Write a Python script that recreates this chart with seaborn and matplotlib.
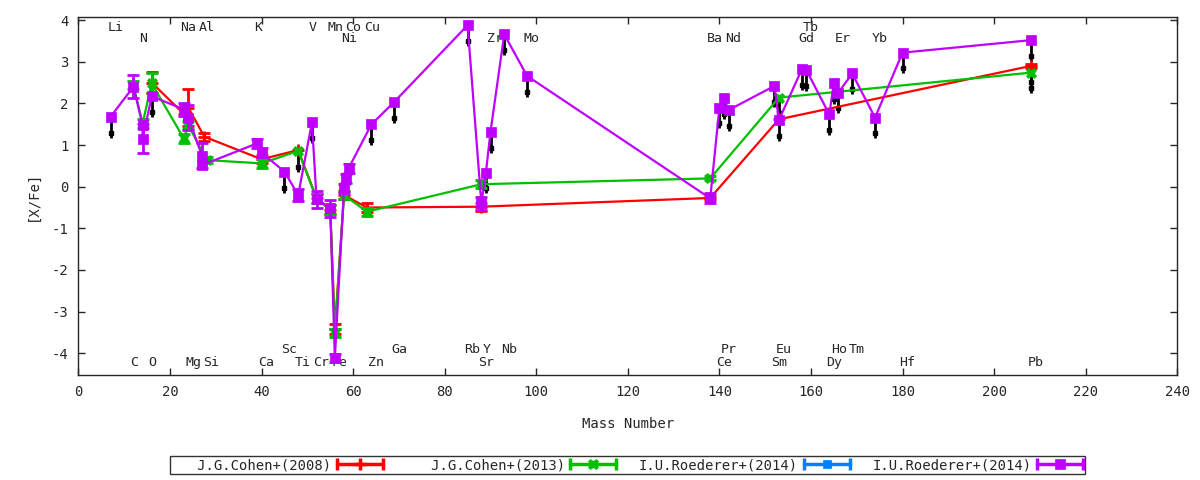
import numpy as np
import pandas as pd
import seaborn as sns
import matplotlib.pyplot as plt
from matplotlib.lines import Line2D
from matplotlib.legend_handler import HandlerLine2D, HandlerTuple

# element labels: mass number, row (0/1 top, 2/3 bottom)
elem_names = ["Li", "N", "Na", "Al", "K", "V", "Mn", "Co", "Cu", "Ni", "Zr", "Mo",
              "Ba", "Nd", "Gd", "Tb", "Er", "Yb",
              "C", "O", "Mg", "Si", "Ca", "Sc", "Ti", "Cr", "Fe", "Zn", "Ga",
              "Rb", "Sr", "Y", "Nb", "Ce", "Pr", "Sm", "Eu", "Dy", "Ho", "Tm", "Hf", "Pb"]
elem_mass = [7, 14, 23, 27, 39, 51, 55, 59, 63, 58, 90, 98,
             138, 142, 158, 159, 166, 174,
             12, 16, 24, 28, 40, 45, 48, 52, 56, 64, 69,
             85, 88, 89, 93, 140, 141, 152, 153, 164, 165, 169, 180, 208]
elem_row = [0, 1, 0, 0, 0, 0, 0, 0, 0, 1, 1, 1,
            1, 1, 1, 0, 1, 1,
            3, 3, 3, 3, 3, 2, 3, 3, 3, 3, 2,
            2, 3, 2, 2, 3, 2, 3, 2, 3, 2, 2, 3, 3]
row_y = [3.83, 3.57, -3.90, -4.23]

# J.G.Cohen+(2008)
c08_mass = [16, 23, 24, 27.5, 40, 48, 52, 55, 56, 58, 63, 88, 138, 153, 208]
c08_val = [2.50, 1.75, 1.90, 1.20, 0.66, 0.88, -0.28, -0.55, -3.42, -0.20, -0.50, -0.48, -0.27, 1.62, 2.90]
c08_err = [0.25, 0, 0.44, 0.10, 0.10, 0, 0.10, 0.10, 0.12, 0.10, 0.10, 0.10, 0.05, 0, 0.05]
c08_ul = [0, 0, 0, 0, 0, 0, 0, 0, 0, 0, 0, 0, 0, 0, 1]

# J.G.Cohen+(2013)
c13_mass = [12, 14, 16, 23, 24, 28, 40, 48, 52, 55, 56, 58, 63, 88, 138, 153, 208]
c13_val = [2.45, 1.52, 2.48, 1.16, 1.48, 0.64, 0.56, 0.86, -0.28, -0.55, -3.52, -0.20, -0.60, 0.06, 0.20, 2.14, 2.74]
c13_err = [0.10, 0.10, 0.24, 0.10, 0.10, 0.08, 0.10, 0, 0.10, 0.10, 0.10, 0.10, 0.10, 0.10, 0.05, 0, 0]
c13_ul = [0, 0, 0, 0, 0, 0, 0, 1, 0, 0, 0, 0, 0, 0, 0, 1, 1]

# I.U.Roederer+(2014), first set (hidden under the second one)
r14a_mass = []
r14a_val = []
r14a_err = []
r14a_ul = []

# I.U.Roederer+(2014)
r14_mass = [7, 12, 14, 14, 16, 23, 24, 27, 27, 39, 40, 45, 48, 51, 52, 55, 56, 58, 58.4, 59,
            64, 69, 85, 88, 89, 90, 93, 98, 138, 140, 141, 142, 152, 153, 158, 159,
            164, 165, 166, 169, 174, 180, 208]
r14_val = [1.68, 2.40, 1.48, 1.15, 2.17, 1.86, 1.66, 0.74, 0.52, 1.04, 0.82, 0.36, -0.20, 1.55,
           -0.30, -0.52, -4.12, -0.04, 0.20, 0.44, 1.50, 2.04, 3.88, -0.40, 0.34, 1.32, 3.66,
           2.66, -0.28, 1.90, 2.12, 1.84, 2.42, 1.60, 2.82, 2.80, 1.74, 2.48, 2.26, 2.72, 1.66,
           3.22, 3.52]
r14_err = [0, 0.28, 0, 0.35, 0, 0.15, 0.30, 0.30, 0, 0.10, 0.10, 0, 0.15, 0, 0.20, 0.20, 0.10,
           0.10, 0.10, 0.10, 0, 0, 0, 0.15, 0, 0, 0, 0, 0.12, 0, 0, 0, 0, 0, 0, 0, 0, 0, 0, 0,
           0, 0, 0]
r14_ul = [1, 0, 0, 0, 1, 0, 0, 0, 0, 0, 0, 1, 0, 1, 0, 0, 0, 0, 0, 0, 1, 1, 1, 0, 1, 1, 1, 1,
          0, 1, 1, 1, 1, 1, 1, 1, 1, 1, 1, 1, 1, 1, 1]

series = [
    ("J.G.Cohen+(2008)", c08_mass, c08_val, c08_err, c08_ul, "#ff0000", "+", 9),
    ("J.G.Cohen+(2013)", c13_mass, c13_val, c13_err, c13_ul, "#00c000", "X", 7.5),
    ("I.U.Roederer+(2014)", r14a_mass, r14a_val, r14a_err, r14a_ul, "#0080ff", "s", 6),
    ("I.U.Roederer+(2014)", r14_mass, r14_val, r14_err, r14_ul, "#c000ff", "s", 7.5),
]

sns.set_style("ticks")
plt.rcParams["font.family"] = ["DejaVu Sans Mono"]
plt.rcParams["font.size"] = 9.5
plt.rcParams["axes.unicode_minus"] = False
plt.rcParams["xtick.direction"] = "in"
plt.rcParams["ytick.direction"] = "in"
plt.rcParams["xtick.top"] = True
plt.rcParams["ytick.right"] = True

fig = plt.figure(figsize=(12, 4.8), dpi=100)
ax = fig.add_axes([0.0654, 0.219, 0.9156, 0.745])

for name, row in zip(elem_names, elem_row):
    m = elem_mass[elem_names.index(name)]
    ax.text(m - 0.7, row_y[row], name, ha="left", va="center", fontsize=9.5, zorder=0)

handles = []
for i, (label, mass, val, err, ul, col, mk, ms) in enumerate(series):
    df = pd.DataFrame({"mass": mass, "val": val, "err": err, "ul": ul})
    z = 3 + i
    # upper limits: black downward arrows
    lim = df[df["ul"] == 1]
    if len(lim):
        ax.vlines(lim["mass"], lim["val"] - 0.5, lim["val"], color="black", lw=2, zorder=1)
        ax.plot(lim["mass"], lim["val"] - 0.38, "s", color="black", ms=3.5, zorder=1)
    if len(df):
        sns.lineplot(data=df, x="mass", y="val", sort=False, estimator=None, ax=ax,
                     color=col, lw=1.6, marker=mk, ms=ms, mec=col, mew=2 if mk == "+" else 0.5,
                     zorder=z)
        eb = df[df["err"] > 0]
        ax.errorbar(eb["mass"], eb["val"], yerr=eb["err"], fmt="none", ecolor=col,
                    elinewidth=2, capsize=4, capthick=2, zorder=z)
    caps = Line2D([], [], color=col, lw=2.5, marker="|", ms=9, mew=2.5)
    dot = Line2D([], [], ls="none", color=col, marker=mk, ms=ms, mec=col,
                 mew=2.5 if mk == "+" else 0.5)
    handles.append(((caps, dot), caps, "   " + label if len(label) < 19 else label))

ax.set_xlim(0, 240)
ax.set_ylim(-4.52, 4.07)
ax.set_xticks(np.arange(0, 241, 20))
ax.set_yticks(np.arange(-4, 5, 1))
ax.tick_params(length=5, width=1, pad=7, labelsize=10)
for s in ax.spines.values():
    s.set_linewidth(1)
ax.set_xlabel("Mass Number", fontsize=10, labelpad=13)
ax.set_ylabel("[X/Fe]", fontsize=10, labelpad=9)

hmap = {tuple: HandlerTuple(ndivide=1)}
for h, caps, _ in handles:
    hmap[caps] = HandlerLine2D(numpoints=2, marker_pad=0)
leg = fig.legend([h[0] for h in handles], [h[2] for h in handles], handler_map=hmap,
                 loc="center", bbox_to_anchor=(0.523, 0.031), ncol=4, markerfirst=False,
                 frameon=True, fancybox=False, edgecolor="black", fontsize=10,
                 handlelength=3.3, handletextpad=0.4, columnspacing=1.65,
                 borderpad=0.15, borderaxespad=0)
leg.get_frame().set_linewidth(1)

fig.savefig("out.png", dpi=100)
